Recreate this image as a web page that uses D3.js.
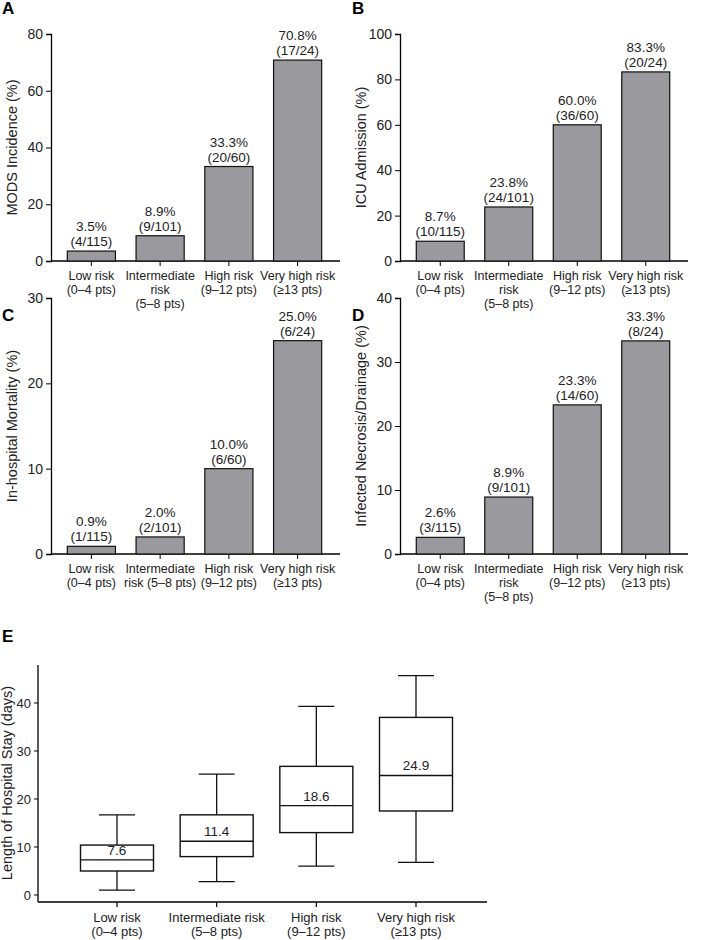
<!DOCTYPE html><html><head><meta charset="utf-8">
<script src="https://cdn.jsdelivr.net/npm/d3@7"></script>
<style>body{margin:0;background:#fff}svg,svg text{font-family:"Liberation Sans",Arial,sans-serif !important}</style></head><body>
<svg id="c" width="702" height="940"></svg>
<script>
const pctA=[3.5,8.9,33.3,70.8], fracA=["(4/115)","(9/101)","(20/60)","(17/24)"];
const pctB=[8.7,23.8,60.0,83.3], fracB=["(10/115)","(24/101)","(36/60)","(20/24)"];
const pctC=[0.9,2.0,10.0,25.0], fracC=["(1/115)","(2/101)","(6/60)","(6/24)"];
const pctD=[2.6,8.9,23.3,33.3], fracD=["(3/115)","(9/101)","(14/60)","(8/24)"];
const catsAB=[["Low risk","(0–4 pts)"],["Intermediate","risk","(5–8 pts)"],["High risk","(9–12 pts)"],["Very high risk","(≥13 pts)"]];
const catsC=[["Low risk","(0–4 pts)"],["Intermediate","risk (5–8 pts)"],["High risk","(9–12 pts)"],["Very high risk","(≥13 pts)"]];
const catsE=[["Low risk","(0–4 pts)"],["Intermediate risk","(5–8 pts)"],["High risk","(9–12 pts)"],["Very high risk","(≥13 pts)"]];
const boxMin=[1,2.8,6,6.8], boxQ1=[5,8,13,17.5], boxMed=[7.3,11.2,18.6,24.9], boxQ3=[10.4,16.7,26.8,37], boxMax=[16.7,25.2,39.3,45.7];
const medLabels=["7.6","11.4","18.6","24.9"];
const svg=d3.select("#c");
function panel(letter,lx,ly,x0,x1,yTop,yBot,max,step,pct,frac,cats,title){
  svg.append("text").attr("x",lx).attr("y",ly).attr("font-weight","bold").attr("font-size",17).text(letter);
  const y=d3.scaleLinear().domain([0,max]).range([yBot,yTop]);
  const x=d3.scaleBand().domain(d3.range(4)).range([x0+6,x1]).paddingInner(0.3).paddingOuter(0.15);
  const g=svg.append("g");
  g.append("g").attr("transform",`translate(${x0},0)`).call(d3.axisLeft(y).tickValues(d3.range(0,max+1,step)).tickSize(5).tickPadding(3))
   .call(a=>{a.attr("font-family",null);a.selectAll("text").attr("font-size",14).attr("fill","#222");a.select(".domain").attr("stroke-width",1.3)});
  g.append("line").attr("x1",x0).attr("x2",x1+8).attr("y1",yBot).attr("y2",yBot).attr("stroke","#000").attr("stroke-width",1.3);
  x.domain().forEach(i=>{
    const bx=x(i),bw=x.bandwidth(),cx=bx+bw/2;
    g.append("rect").attr("x",bx).attr("y",y(pct[i])).attr("width",bw).attr("height",yBot-y(pct[i])).attr("fill","#9a9a9e").attr("stroke","#111").attr("stroke-width",1.2);
    g.append("line").attr("x1",cx).attr("x2",cx).attr("y1",yBot).attr("y2",yBot+5).attr("stroke","#000");
    g.append("text").attr("x",cx).attr("y",y(pct[i])-20).attr("text-anchor","middle").attr("font-size",13.5).attr("fill","#222").text(pct[i].toFixed(1)+"%");
    g.append("text").attr("x",cx).attr("y",y(pct[i])-5).attr("text-anchor","middle").attr("font-size",13.5).attr("fill","#222").text(frac[i]);
    cats[i].forEach((t,k)=>g.append("text").attr("x",cx).attr("y",yBot+19+k*14).attr("text-anchor","middle").attr("font-size",12.5).attr("fill","#222").text(t));
  });
  g.append("text").attr("transform",`translate(${x0-34},${(yTop+yBot)/2}) rotate(-90)`).attr("text-anchor","middle").attr("font-size",14.5).attr("fill","#222").text(title);
}
panel("A",2,14,51,332,34,261,80,20,pctA,fracA,catsAB,"MODS Incidence (%)");
panel("B",352,14,400,680,34,261,100,20,pctB,fracB,catsAB,"ICU Admission (%)");
panel("C",2,321,51,332,298,554,30,10,pctC,fracC,catsC,"In-hospital Mortality (%)");
panel("D",352,321,400,680,298,554,40,10,pctD,fracD,catsAB,"Infected Necrosis/Drainage (%)");
// Panel E
svg.append("text").attr("x",2).attr("y",642).attr("font-weight","bold").attr("font-size",17).text("E");
const yE=d3.scaleLinear().domain([0,40]).range([895,703]);
const xE=d3.scalePoint().domain(d3.range(4)).range([117,416]);
const gE=svg.append("g");
gE.append("line").attr("x1",38).attr("x2",38).attr("y1",665).attr("y2",902).attr("stroke","#000").attr("stroke-width",1.3);
gE.append("line").attr("x1",38).attr("x2",487).attr("y1",902).attr("y2",902).attr("stroke","#000").attr("stroke-width",1.3);
[0,10,20,30,40].forEach(v=>{
  gE.append("line").attr("x1",34).attr("x2",38).attr("y1",yE(v)).attr("y2",yE(v)).attr("stroke","#000");
  gE.append("text").attr("x",31).attr("y",yE(v)+4.5).attr("text-anchor","end").attr("font-size",13).attr("fill","#222").text(v);
});
gE.append("text").attr("transform",`translate(12,783) rotate(-90)`).attr("text-anchor","middle").attr("font-size",14.5).attr("fill","#222").text("Length of Hospital Stay (days)");
const bw=73;
d3.range(4).forEach(i=>{
  const cx=xE(i);
  const L=(x1,x2,y1,y2)=>gE.append("line").attr("x1",x1).attr("x2",x2).attr("y1",y1).attr("y2",y2).attr("stroke","#111").attr("stroke-width",1.3);
  L(cx,cx,yE(boxMax[i]),yE(boxQ3[i]));L(cx,cx,yE(boxQ1[i]),yE(boxMin[i]));
  L(cx-18,cx+18,yE(boxMax[i]),yE(boxMax[i]));L(cx-18,cx+18,yE(boxMin[i]),yE(boxMin[i]));
  gE.append("rect").attr("x",cx-bw/2).attr("y",yE(boxQ3[i])).attr("width",bw).attr("height",yE(boxQ1[i])-yE(boxQ3[i])).attr("fill","#fff").attr("stroke","#111").attr("stroke-width",1.4);
  L(cx-bw/2,cx+bw/2,yE(boxMed[i]),yE(boxMed[i]));
  gE.append("text").attr("x",cx).attr("y",yE(boxMed[i])-5).attr("text-anchor","middle").attr("font-size",13.5).attr("fill","#222").text(medLabels[i]);
  L(cx,cx,902,907);
  catsE[i].forEach((t,k)=>gE.append("text").attr("x",cx).attr("y",922+k*14).attr("text-anchor","middle").attr("font-size",13).attr("fill","#222").text(t));
});
</script></body></html>
